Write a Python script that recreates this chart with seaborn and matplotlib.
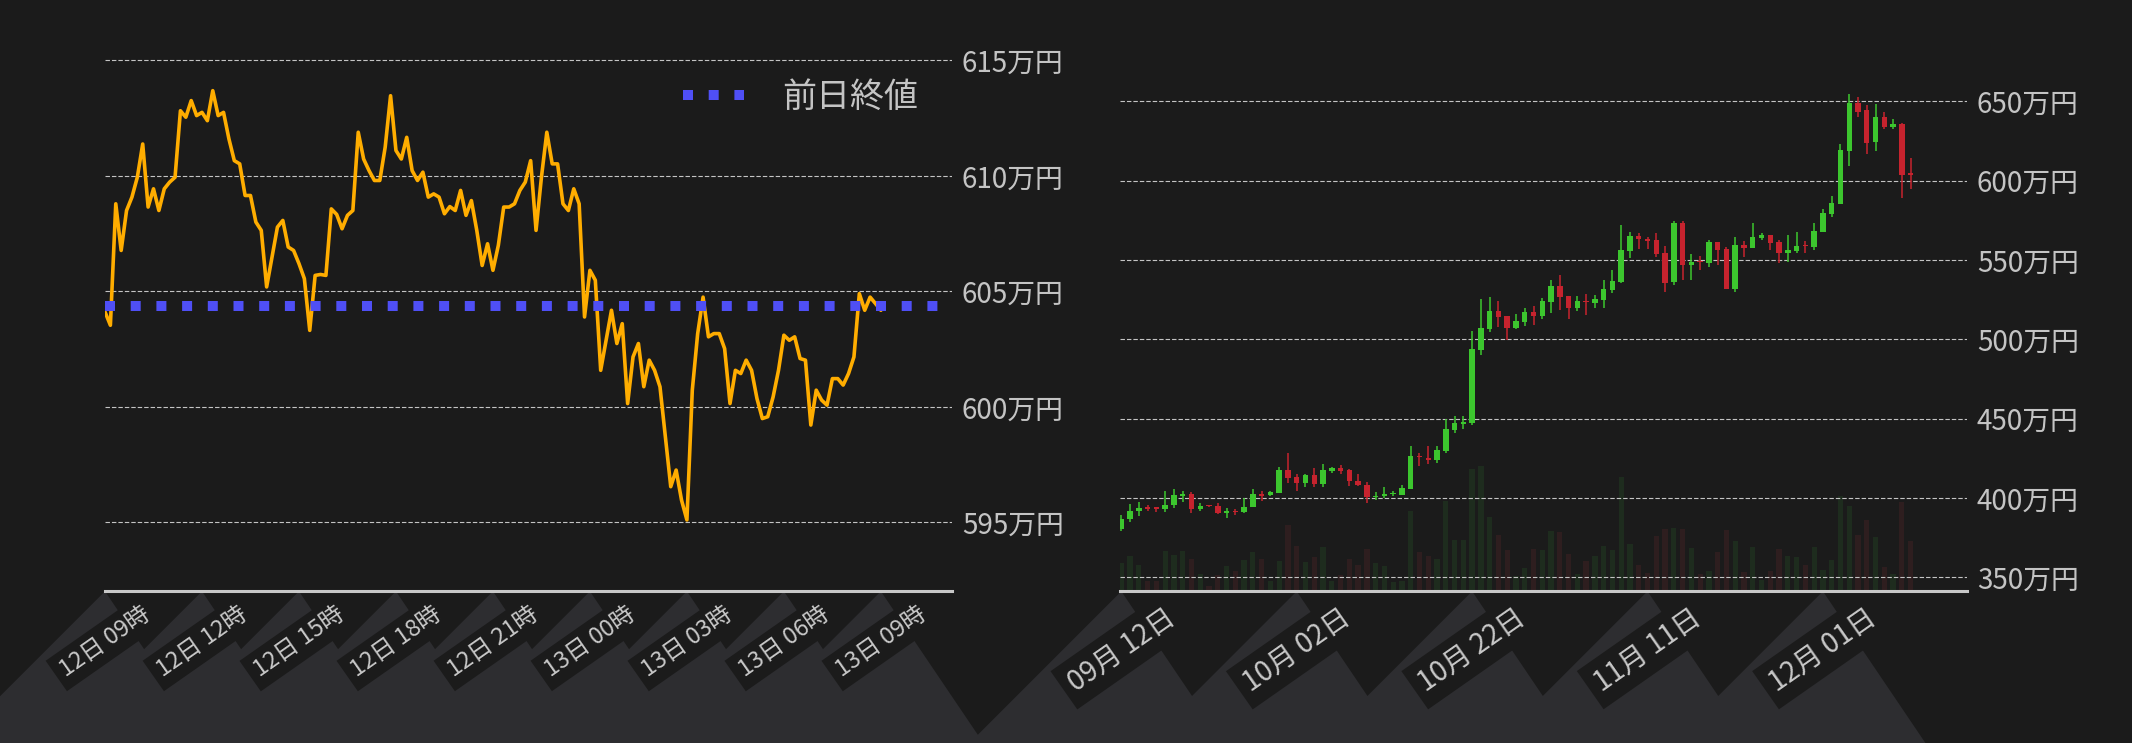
import numpy as np
import pandas as pd
import matplotlib
matplotlib.use('Agg')
import matplotlib.pyplot as plt
from matplotlib.patches import Polygon
import seaborn as sns

# ---- intraday (10 min steps), price in 万円 ----
intraday_start = '2023-12-12 09:00'
prev_close = 604.37
intraday_price = [
    604.11, 603.53, 608.79, 606.77, 608.50, 609.08, 609.94, 611.38, 608.65, 609.44,
    608.50, 609.44, 609.73, 609.94, 612.82, 612.54, 613.26, 612.61, 612.75, 612.39,
    613.69, 612.61, 612.75, 611.60, 610.66, 610.52, 609.15, 609.15, 608.00, 607.64,
    605.19, 606.48, 607.78, 608.07, 606.92, 606.77, 606.20, 605.55, 603.31, 605.69,
    605.73, 605.69, 608.57, 608.33, 607.71, 608.29, 608.50, 611.89, 610.73, 610.23,
    609.80, 609.80, 611.24, 613.47, 611.10, 610.73, 611.67, 610.23, 609.80, 610.16,
    609.08, 609.22, 609.08, 608.36, 608.67, 608.50, 609.37, 608.29, 608.93, 607.64,
    606.12, 607.06, 605.91, 606.99, 608.65, 608.65, 608.79, 609.37, 609.73, 610.66,
    607.64, 609.94, 611.89, 610.52, 610.52, 608.79, 608.50, 609.44, 608.79, 603.89,
    605.91, 605.48, 601.58, 602.88, 604.18, 602.74, 603.60, 600.14, 602.16, 602.74,
    600.87, 602.02, 601.58, 600.87, 598.70, 596.54, 597.26, 595.96, 595.10, 600.72,
    603.17, 604.75, 603.03, 603.17, 603.17, 602.52, 600.14, 601.58, 601.44, 602.02,
    601.58, 600.36, 599.49, 599.57, 600.43, 601.58, 603.10, 602.88, 603.03, 602.09,
    602.02, 599.21, 600.72, 600.29, 600.07, 601.22, 601.22, 600.94, 601.44, 602.16,
    604.90, 604.18, 604.75, 604.47, 604.18,
]

# ---- daily candles, price in 万円 ----
daily_start = '2023-09-12'
daily_open = [
    380.4, 386.5, 391.5, 394.1, 393.5, 392.8, 395.3, 401.5, 402.7, 392.8,
    395.0, 395.1, 390.3, 392.0, 390.9, 394.1, 402.7, 401.7, 403.0, 417.3,
    412.9, 409.3, 414.6, 408.6, 416.9, 418.6, 417.3, 410.9, 408.4, 400.8,
    401.1, 402.4, 402.1, 405.7, 425.8, 425.2, 424.1, 429.8, 443.0, 446.8,
    447.4, 493.3, 506.5, 517.6, 514.5, 507.1, 510.9, 517.0, 514.7, 523.5,
    533.3, 527.1, 519.7, 523.6, 522.9, 524.8, 531.0, 536.1, 555.6, 565.4,
    563.5, 562.3, 554.1, 536.3, 573.3, 547.0, 548.6, 548.3, 561.3, 556.9,
    531.9, 559.4, 557.8, 564.1, 565.7, 561.3, 554.6, 555.9, 558.9, 558.4,
    567.9, 579.0, 585.5, 618.9, 649.0, 644.5, 624.6, 640.1, 634.0, 635.7,
    604.0,
]
daily_high = [
    389.4, 396.4, 397.7, 395.6, 394.5, 404.6, 405.9, 404.6, 403.4, 397.0,
    395.7, 396.8, 393.9, 393.2, 400.0, 405.3, 404.6, 404.6, 419.2, 428.1,
    415.2, 415.2, 418.6, 421.1, 419.2, 420.5, 417.9, 414.8, 410.3, 403.4,
    406.7, 404.6, 408.4, 433.0, 428.3, 432.7, 432.7, 449.5, 451.6, 451.6,
    505.1, 525.2, 526.4, 523.9, 514.5, 515.7, 519.5, 520.8, 525.8, 537.1,
    540.3, 527.1, 527.1, 528.3, 527.7, 537.1, 543.4, 572.3, 567.9, 566.7,
    564.2, 566.7, 558.5, 574.6, 574.6, 553.8, 552.5, 562.6, 561.3, 558.2,
    564.5, 562.0, 573.1, 567.0, 565.7, 562.6, 565.7, 567.6, 562.0, 573.3,
    582.1, 590.3, 623.1, 654.6, 652.7, 647.7, 648.3, 643.3, 638.9, 636.3,
    614.3,
]
daily_low = [
    378.9, 384.6, 388.4, 391.5, 390.9, 390.9, 393.5, 397.2, 390.3, 391.5,
    394.1, 389.7, 387.1, 389.0, 390.3, 394.1, 397.9, 401.5, 403.0, 409.3,
    404.6, 406.7, 406.7, 406.7, 415.6, 414.8, 407.2, 407.4, 397.0, 398.5,
    400.0, 401.1, 401.9, 405.3, 419.8, 421.4, 422.3, 428.5, 441.1, 443.6,
    445.9, 490.0, 504.4, 507.6, 499.8, 506.5, 508.4, 508.8, 512.8, 516.6,
    518.3, 512.8, 517.8, 515.3, 519.7, 519.7, 529.2, 535.4, 551.0, 556.6,
    557.2, 551.8, 529.8, 534.4, 537.5, 537.5, 543.9, 545.8, 547.0, 531.9,
    530.0, 552.1, 557.8, 562.8, 556.3, 548.3, 548.9, 554.6, 554.6, 556.3,
    567.9, 577.1, 585.5, 609.2, 640.1, 617.0, 618.9, 632.8, 632.8, 589.3,
    595.0,
]
daily_close = [
    386.7, 391.8, 393.9, 392.8, 393.3, 395.8, 402.1, 402.7, 392.8, 395.1,
    394.8, 390.3, 392.0, 390.9, 394.5, 402.7, 401.5, 403.4, 417.3, 412.4,
    409.3, 414.6, 408.6, 417.3, 418.6, 416.9, 410.5, 408.0, 400.8, 401.3,
    402.7, 402.6, 406.5, 426.1, 425.6, 424.1, 430.2, 443.4, 447.2, 447.8,
    493.7, 506.9, 517.6, 514.1, 507.1, 511.3, 517.0, 514.7, 523.9, 533.3,
    526.6, 519.7, 523.9, 523.4, 525.2, 531.5, 536.5, 556.0, 565.4, 563.1,
    561.9, 553.7, 535.4, 573.3, 547.0, 548.7, 548.4, 561.3, 556.5, 531.9,
    559.4, 557.8, 564.5, 565.7, 560.9, 554.6, 556.3, 558.8, 558.7, 568.3,
    579.6, 585.9, 619.3, 649.0, 643.3, 623.9, 640.1, 634.0, 635.7, 603.8,
    603.8,
]
daily_volume = [
    85, 105, 78, 32, 32, 120, 108, 120, 97, 51,
    15, 48, 75, 60, 93, 117, 97, 32, 90, 198,
    135, 87, 102, 132, 32, 48, 97, 78, 127, 84,
    75, 27, 32, 241, 117, 105, 97, 272, 153, 153,
    366, 375, 222, 168, 124, 45, 69, 127, 124, 180,
    177, 111, 51, 90, 105, 135, 124, 342, 141, 78,
    54, 165, 186, 189, 186, 129, 51, 60, 117, 183,
    150, 57, 132, 33, 60, 127, 105, 102, 78, 132,
    63, 93, 285, 255, 168, 213, 162, 72, 51, 268,
    150,
]

left_yticks = [595, 600, 605, 610, 615]
right_yticks = [350, 400, 450, 500, 550, 600, 650]

BG = '#1b1b1b'
BAND = '#2d2d30'
GRID = '#c4c4c4'
TXT = '#c4c4c4'
ORANGE = '#ffad00'
BLUE = '#4f4ff5'
UP = '#3cc62e'
DOWN = '#c6232e'
UP_VOL = '#1e2c1e'
DOWN_VOL = '#2e1e1f'

W, H = 2132, 743

sns.set_theme(style='dark', rc={'axes.facecolor': BG, 'figure.facecolor': BG})
plt.rcParams['font.family'] = ['Noto Sans CJK JP', 'DejaVu Sans']

fig = plt.figure(figsize=(W / 100, H / 100), dpi=100)
fig.patch.set_facecolor(BG)


def style_axes(ax, yticks, ylabels):
    ax.yaxis.tick_right()
    ax.set_yticks(yticks)
    ax.set_yticklabels(ylabels)
    ax.tick_params(axis='y', length=0, pad=7, labelsize=20, labelcolor=TXT)
    ax.grid(axis='y', color=GRID, lw=0.8, linestyle=(0, (4, 1.8)))
    ax.grid(axis='x', visible=False)
    ax.set_xlabel('')
    ax.set_ylabel('')
    for side in ['top', 'left', 'right', 'bottom']:
        ax.spines[side].set_visible(False)


# ---- left: intraday line ----
ax1 = fig.add_axes([105 / W, 1 - 591.3 / H, 847 / W, 571.3 / H])
times = pd.date_range(intraday_start, periods=len(intraday_price), freq='10min')
hours = np.asarray((times - times[0]) / pd.Timedelta(hours=1))
x1_max = 26.2

sns.lineplot(x=hours, y=intraday_price, ax=ax1, color=ORANGE, lw=2.6, zorder=3)
sns.lineplot(x=[0, x1_max], y=[prev_close, prev_close], ax=ax1, color=BLUE, lw=7.2,
             linestyle=(0, (1, 1.57)), zorder=4)
ax1.set_xlim(0, x1_max)
ax1.set_ylim(592.01, 616.75)
style_axes(ax1, left_yticks, [f'{v}万円' for v in left_yticks])
ax1.spines['bottom'].set_visible(True)
ax1.spines['bottom'].set_color('#c8c8c8')
ax1.spines['bottom'].set_linewidth(2.2)

tick_hours = np.arange(0, 25, 3)
tick_times = [times[0] + pd.Timedelta(hours=int(h)) for h in tick_hours]
ax1.set_xticks(tick_hours)
ax1.set_xticklabels([f'{t.day}日 {t.hour:02d}時' for t in tick_times])
ax1.tick_params(axis='x', length=0, pad=8, labelsize=17, labelcolor='#c8c8c8', labelrotation=35)

leg = ax1.legend(handles=[ax1.lines[1]], labels=['前日終値'], loc='center left',
                 bbox_to_anchor=(683 / W, 1 - 97 / H), bbox_transform=fig.transFigure,
                 frameon=False, fontsize=24.5, handlelength=1.8, handletextpad=1.1,
                 borderpad=0, borderaxespad=0, labelcolor=TXT)

# ---- right: daily candles + volume ----
ax_vol = fig.add_axes([1120 / W, 1 - 591.3 / H, 847 / W, 571.3 / H])
ax2 = ax_vol.twinx()
days = pd.date_range(daily_start, periods=len(daily_close), freq='D')
xd = np.arange(len(days))
o = np.array(daily_open)
c = np.array(daily_close)
hi = np.array(daily_high)
lo = np.array(daily_low)
up = c >= o

ax_vol.bar(xd, daily_volume, width=0.6, color=np.where(up, UP_VOL, DOWN_VOL),
           edgecolor='none', linewidth=0, zorder=1)
ax_vol.set_ylim(0, 1714)
ax_vol.set_yticks([])
ax_vol.set_xlim(-0.15, 96.43)
for side in ['top', 'left', 'right']:
    ax_vol.spines[side].set_visible(False)
ax_vol.spines['bottom'].set_color('#c8c8c8')
ax_vol.spines['bottom'].set_linewidth(2.2)
ax_vol.grid(False)

colors = np.where(up, UP, DOWN)
ax2.vlines(xd, lo, hi, colors=colors, lw=1.1, zorder=3)
ax2.bar(xd, np.maximum(np.abs(c - o), 0.7), bottom=np.minimum(o, c), width=0.62,
        color=colors, edgecolor='none', linewidth=0, zorder=4)
ax2.set_ylim(341.11, 701.25)
ax2.set_xlim(-0.15, 96.43)
style_axes(ax2, right_yticks, [f'{v}万円' for v in right_yticks])

tick_days = np.arange(0, len(days), 20)
ax_vol.set_xticks(tick_days)
ax_vol.set_xticklabels([f'{days[i].month:02d}月 {days[i].day:02d}日' for i in tick_days])
ax_vol.tick_params(axis='x', length=0, pad=8, labelsize=20, labelcolor='#c8c8c8', labelrotation=35)

for lab in ax1.get_xticklabels() + ax_vol.get_xticklabels():
    lab.set_bbox(dict(boxstyle='square,pad=0.3', fc=BG, ec='none'))

# ---- zigzag band under the tick labels ----
steep = 1.48
axis_y = H - 591.3
left_px = [ax1.transData.transform((t, 592.01))[0] for t in tick_hours]
right_px = [ax_vol.transData.transform((t, 0))[0] for t in tick_days]
pts = [(0, 0), (0, axis_y - left_px[0])]
for group in (left_px, right_px):
    for j, px in enumerate(group):
        pts.append((px, axis_y))
        if j + 1 < len(group):
            gap = group[j + 1] - px
            pts.append((px + gap / (1 + steep), axis_y - steep * gap / (1 + steep)))
    if group is left_px:
        gap = right_px[0] - px
        pts.append((px + gap / (1 + steep), axis_y - steep * gap / (1 + steep)))
pts.append((right_px[-1] + axis_y / steep, 0))
band = Polygon([(x / W, y / H) for x, y in pts], closed=True, fc=BAND, ec='none',
               transform=fig.transFigure, zorder=-1)
fig.add_artist(band)

fig.savefig('out.png', dpi=100, facecolor=BG)
